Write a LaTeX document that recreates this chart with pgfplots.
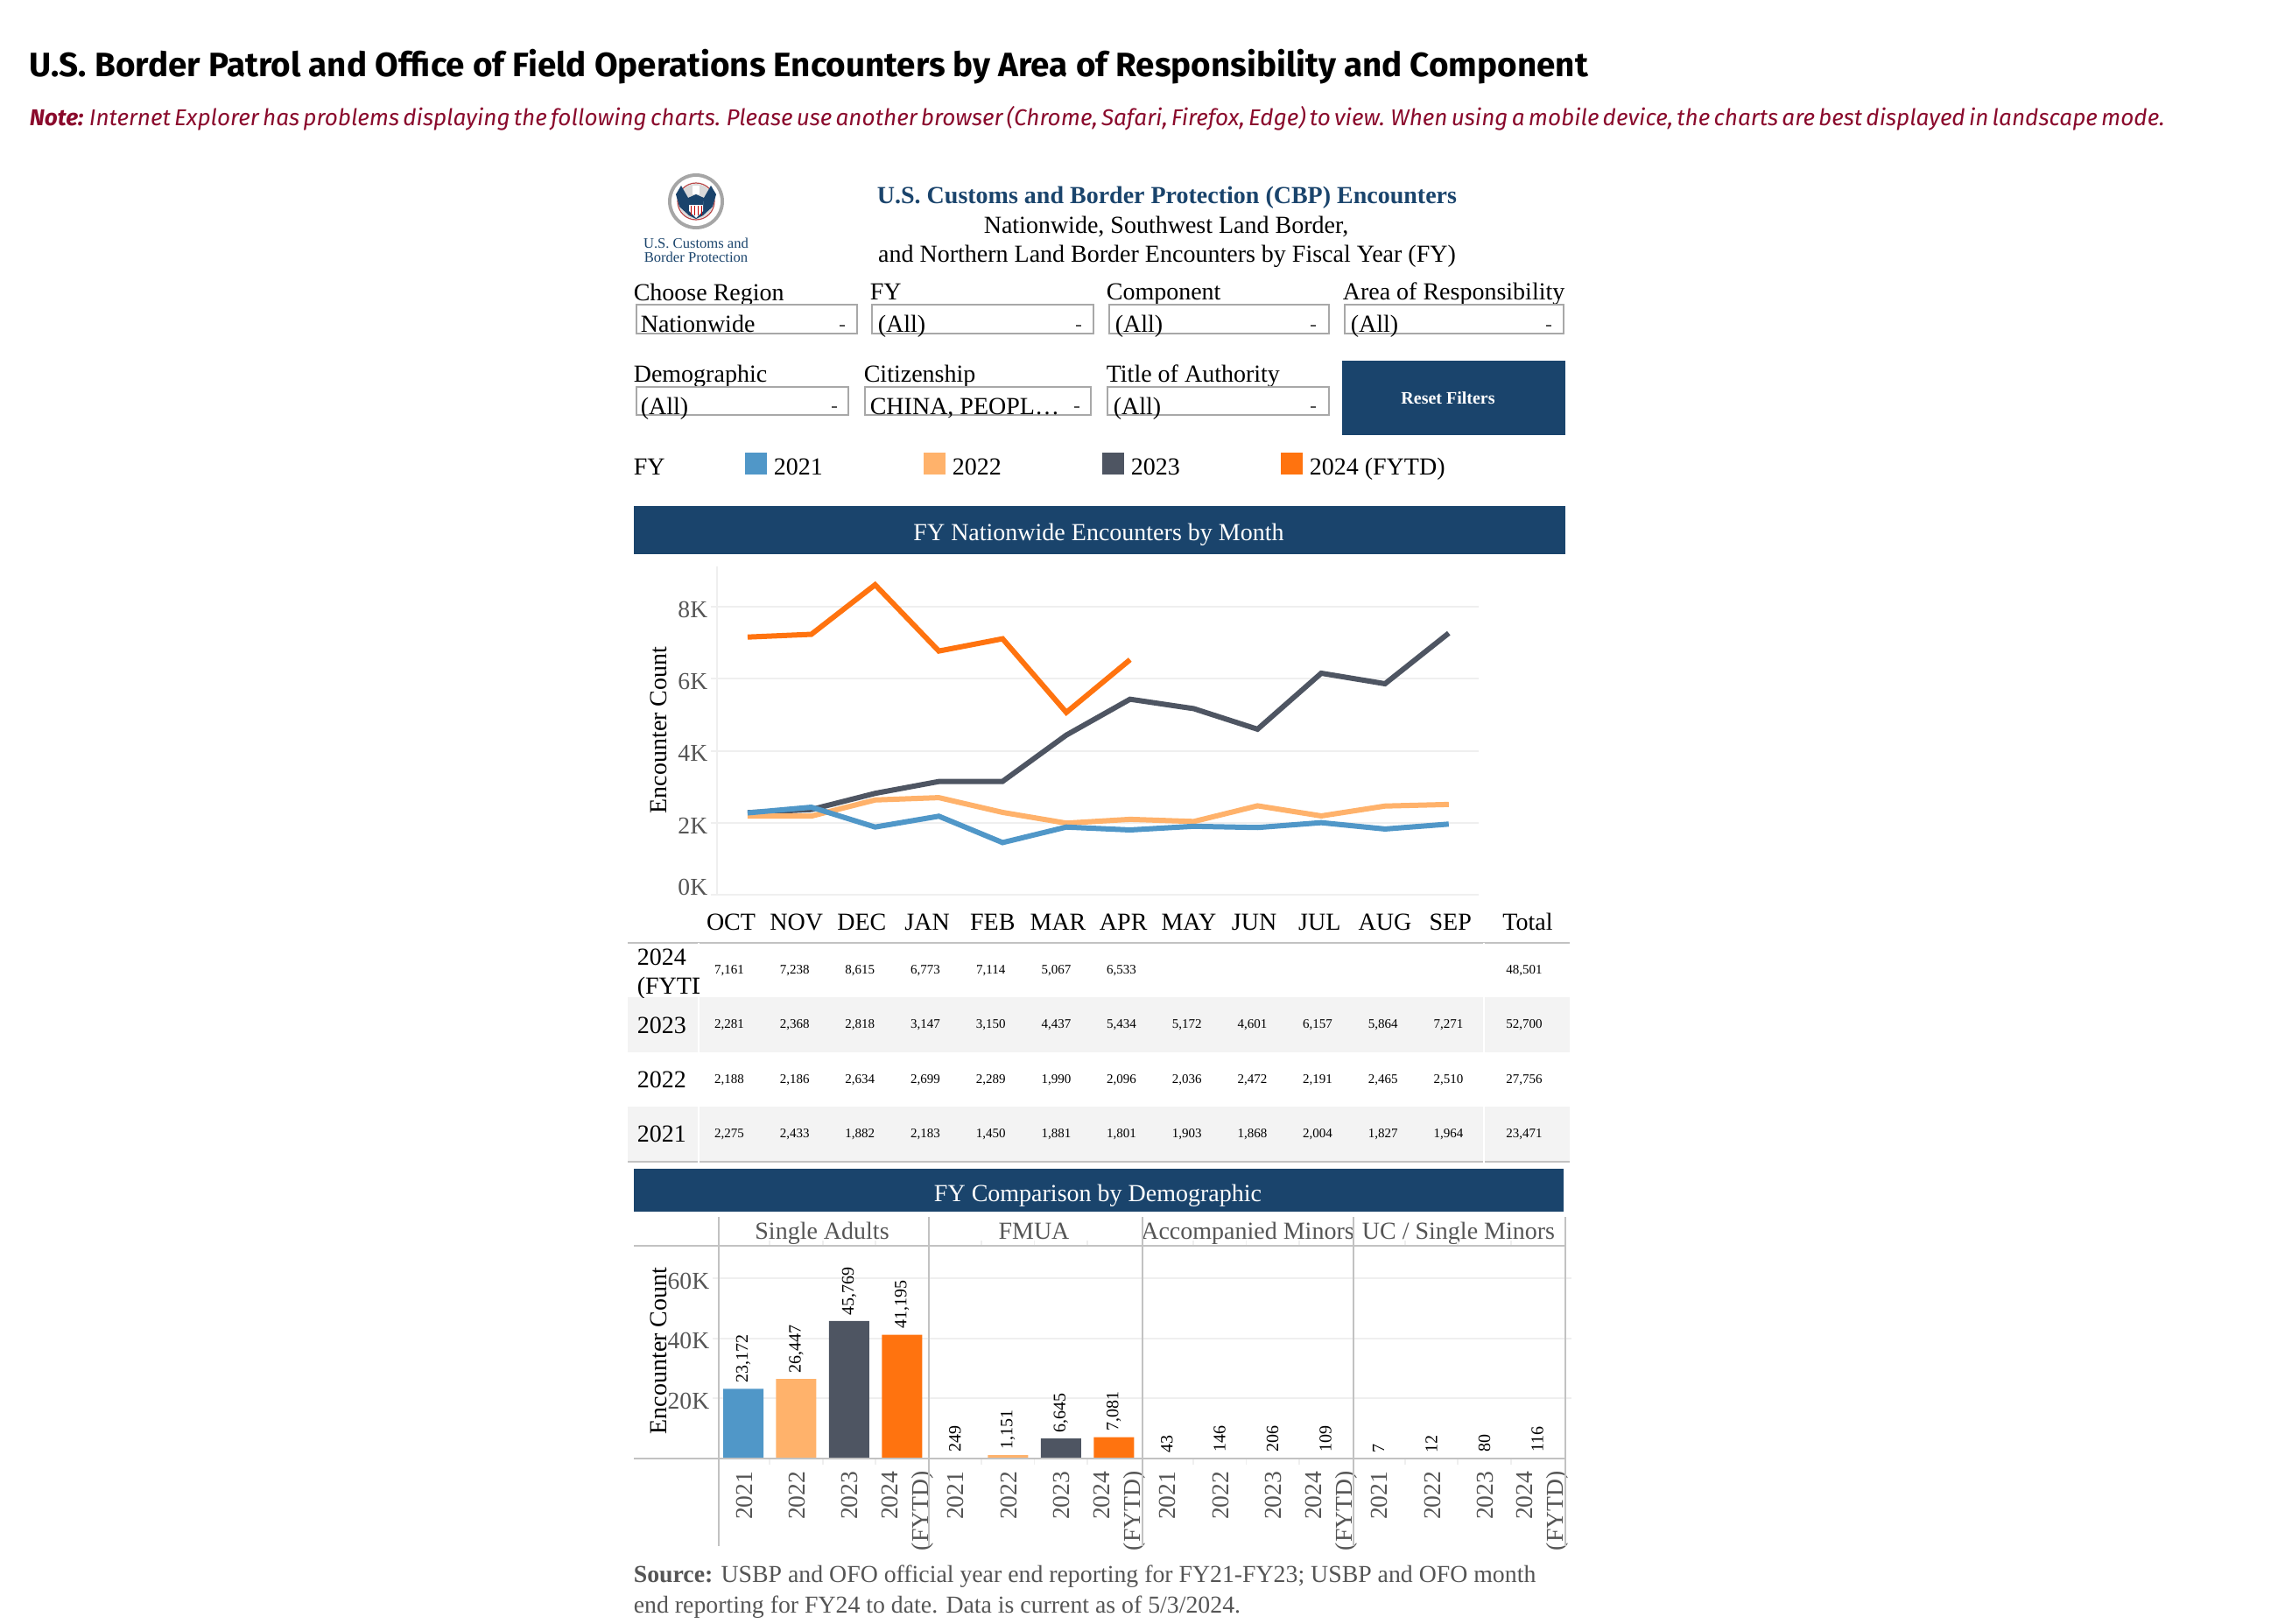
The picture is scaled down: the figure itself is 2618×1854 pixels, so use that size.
\documentclass[border=0pt]{standalone}
\usepackage{fontspec}
\setmainfont{Liberation Serif}
\newfontfamily\webfont{Fira Sans}
\usepackage{pgfplots}
\pgfplotsset{compat=1.18}

\definecolor{fyone}{HTML}{5097C8}
\definecolor{fytwo}{HTML}{FFB26B}
\definecolor{fythree}{HTML}{4E5562}
\definecolor{fyfour}{HTML}{FF730F}
\definecolor{banner}{HTML}{1A446C}
\definecolor{notered}{HTML}{8A0A2C}
\definecolor{boxline}{HTML}{A8A8A8}
\definecolor{gridl}{HTML}{EFEFEF}
\definecolor{rowbg}{HTML}{F3F3F3}
\definecolor{txgray}{HTML}{555555}

% font sizes, named after their height in pixels of the final image
\newcommand{\fsbig}{\fontsize{7}{8.75}\selectfont}
\newcommand{\fstick}{\fontsize{6.9}{8.75}\selectfont}
\newcommand{\fsbar}{\fontsize{5}{6}\selectfont}
\newcommand{\fscell}{\fontsize{3.75}{4.5}\selectfont}
\newcommand{\fslogo}{\fontsize{4.15}{5}\selectfont}
% two-line tick label, the rule moves it a little to the right once rotated
\newcommand{\ytd}{\rule{0pt}{7.2pt}2024\\(FYTD)}

\begin{document}
\begin{tikzpicture}[x=0.25pt,y=-0.25pt,
  tx/.style={inner sep=0pt,anchor=base west,font=\fsbig},
  txc/.style={inner sep=0pt,anchor=base,font=\fsbig},
  cell/.style={inner sep=0pt,anchor=base,font=\fscell},
  filter/.style={draw=boxline,line width=0.5pt,fill=white}]
\path[use as bounding box] (0,0) rectangle (2618,1854);
\coordinate (linepos) at (819,1022);
\coordinate (barpos) at (821,1666);

% page heading
\node[inner sep=0pt,anchor=base west,font=\webfont\bfseries\fontsize{9.65}{12}\selectfont] at (33,87)
  {U.S. Border Patrol and Office of Field Operations Encounters by Area of Responsibility and Component};
\node[inner sep=0pt,anchor=base west,text=notered,font=\webfont\itshape\fontsize{6.54}{9}\selectfont] at (33,143)
  {\spaceskip=0.16em\relax\textbf{Note:} Internet Explorer has problems displaying the following charts. Please use another browser (Chrome, Safari, Firefox, Edge) to view. When using a mobile device, the charts are best displayed in landscape mode.};

% seal
\fill[gray!70] (795,230) circle (32);
\fill[white] (795,230) circle (28);
\draw[red!45!gray,line width=0.3pt] (795,230) circle (21);
\fill[gray!30] (795,230) circle (20);
\fill[banner] (795,222) -- (786,226) -- (778,212) -- (772,222) -- (776,236) -- (787,246) -- (795,250)
  -- (803,246) -- (814,236) -- (818,222) -- (812,212) -- (804,226) -- cycle;
\fill[white] (787,230) -- (803,230) -- (803,241) -- (795,249) -- (787,241) -- cycle;
\fill[banner] (787,230) rectangle (803,234);
\foreach \xx in {789,793,797,801} \draw[red!75!black,line width=0.25pt] (\xx,235) -- (\xx,246);
\fill[white] (791,212) rectangle (799,222);
\node[txc,font=\fslogo,text=banner] at (795,283) {U.S. Customs and};
\node[txc,font=\fslogo,text=banner] at (795,299) {Border Protection};

% dashboard heading
\node[txc,text=banner] at (1333,232) {\textbf{U.S. Customs and Border Protection (CBP) Encounters}};
\node[txc] at (1332,266) {Nationwide, Southwest Land Border,};
\node[txc] at (1333,299) {and Northern Land Border Encounters by Fiscal Year (FY)};

% filters
\node[tx] at (723,343) {Choose Region};
\node[tx] at (993,342) {FY};
\node[tx] at (1263,342) {Component};
\node[tx] at (1533,342) {Area of Responsibility};
\draw[filter] (727,348) rectangle (979,381);
\draw[filter] (996,348) rectangle (1249,381);
\draw[filter] (1267,348) rectangle (1518,381);
\draw[filter] (1536,348) rectangle (1786,381);
\node[tx] at (731,379) {Nationwide};
\node[tx] at (1002,379) {(All)};
\node[tx] at (1273,379) {(All)};
\node[tx] at (1542,379) {(All)};
\foreach \x in {962,1232,1500,1769} \draw[txgray,line width=0.3pt] (\x-3,372) -- (\x+3,372);

\node[tx] at (723,436) {Demographic};
\node[tx] at (986,436) {Citizenship};
\node[tx] at (1263,436) {Title of Authority};
\draw[filter] (727,442) rectangle (969,474);
\draw[filter] (988,442) rectangle (1246,474);
\draw[filter] (1265,442) rectangle (1518,474);
\node[tx] at (731,473) {(All)};
\node[tx] at (993,473) {CHINA, PEOPL\ldots};
\node[tx] at (1271,473) {(All)};
\foreach \x in {953,1230,1500} \draw[txgray,line width=0.3pt] (\x-3,465) -- (\x+3,465);

\fill[banner] (1533,412) rectangle (1788,497);
\node[txc,font=\fsbar\bfseries,text=white] at (1654,461) {Reset Filters};

% legend
\node[tx] at (723,542) {FY};
\fill[fyone] (851,517) rectangle (876,542);
\node[tx] at (883,542) {2021};
\fill[fytwo] (1055,517) rectangle (1080,542);
\node[tx] at (1087,542) {2022};
\fill[fythree] (1259,517) rectangle (1284,542);
\node[tx] at (1291,542) {2023};
\fill[fyfour] (1463,517) rectangle (1488,542);
\node[tx] at (1495,542) {2024 (FYTD)};

% monthly line chart
\fill[banner] (724,578) rectangle (1788,633);
\node[txc,text=white] at (1255,617) {FY Nationwide Encounters by Month};

\begin{axis}[
    at={(linepos)}, anchor=south west, scale only axis,
    width=217.5pt, height=93.75pt,
    xmin=-0.48, xmax=11.47, ymin=0, ymax=9124,
    axis line style={draw=none},
    axis y line=left, axis x line=none,
    ytick={2000,4000,6000,8000}, yticklabels={2K,4K,6K,8K},
    extra y ticks={0}, extra y tick labels={0K},
    extra y tick style={yticklabel style={yshift=2.85pt}},
    ymajorgrids, grid style={draw=gridl,line width=0.5pt},
    tick align=outside, major tick length=1.75pt,
    ytick style={draw=gridl,line width=0.5pt},
    yticklabel style={font=\fstick,text=txgray,inner sep=0pt,xshift=-0.75pt,yshift=-0.8pt,
      /pgf/number format/assume math mode=true},
  ]
  \addplot[color=fyfour,line width=1.5pt] coordinates {
    (0,7161) (1,7238) (2,8615) (3,6773) (4,7114) (5,5067) (6,6533)};
  \addplot[color=fythree,line width=1.5pt] coordinates {
    (0,2281) (1,2368) (2,2818) (3,3147) (4,3150) (5,4437) (6,5434)
    (7,5172) (8,4601) (9,6157) (10,5864) (11,7271)};
  \addplot[color=fytwo,line width=1.5pt] coordinates {
    (0,2188) (1,2186) (2,2634) (3,2699) (4,2289) (5,1990) (6,2096)
    (7,2036) (8,2472) (9,2191) (10,2465) (11,2510)};
  \addplot[color=fyone,line width=1.5pt] coordinates {
    (0,2275) (1,2433) (2,1882) (3,2183) (4,1450) (5,1881) (6,1801)
    (7,1903) (8,1868) (9,2004) (10,1827) (11,1964)};
\end{axis}
\draw[gridl,line width=0.4pt] (819,647) -- (819,1022);
\node[rotate=90,inner sep=0pt,font=\fsbig,anchor=base] at (761,834) {Encounter Count};

% table under the line chart
\fill[rowbg] (717,1139) rectangle (1793,1202);
\fill[rowbg] (717,1264) rectangle (1793,1327);
\foreach \yy in {1077,1327} \draw[boxline!70,line width=0.5pt] (717,\yy) -- (1793,\yy);
\foreach \xx in {798,1695} \draw[white,line width=0.5pt] (\xx,1077) -- (\xx,1328);
\foreach \m [count=\i from 0] in {OCT,NOV,DEC,JAN,FEB,MAR,APR,MAY,JUN,JUL,AUG,SEP}
  \node[txc] at ({835+74.7*\i},1062) {\m};
\node[txc] at (1745,1062) {Total};

\begin{scope}
  \clip (717,1077) rectangle (798,1139);
  \node[tx] at (727,1102) {2024};
  \node[tx] at (727,1135) {(FYTD)};
\end{scope}
\node[tx] at (727,1180) {2023};
\node[tx] at (727,1242) {2022};
\node[tx] at (727,1304) {2021};

\foreach \i/\v in {0/{7,161},1/{7,238},2/{8,615},3/{6,773},4/{7,114},5/{5,067},6/{6,533}}
  \node[cell] at ({833+74.67*\i},1112) {\v};
\foreach \i/\v in {0/{2,281},1/{2,368},2/{2,818},3/{3,147},4/{3,150},5/{4,437},6/{5,434},7/{5,172},8/{4,601},9/{6,157},10/{5,864},11/{7,271}}
  \node[cell] at ({833+74.67*\i},1174) {\v};
\foreach \i/\v in {0/{2,188},1/{2,186},2/{2,634},3/{2,699},4/{2,289},5/{1,990},6/{2,096},7/{2,036},8/{2,472},9/{2,191},10/{2,465},11/{2,510}}
  \node[cell] at ({833+74.67*\i},1237) {\v};
\foreach \i/\v in {0/{2,275},1/{2,433},2/{1,882},3/{2,183},4/{1,450},5/{1,881},6/{1,801},7/{1,903},8/{1,868},9/{2,004},10/{1,827},11/{1,964}}
  \node[cell] at ({833+74.67*\i},1299) {\v};
\node[cell] at (1741,1112) {48,501};
\node[cell] at (1741,1174) {52,700};
\node[cell] at (1741,1237) {27,756};
\node[cell] at (1741,1299) {23,471};

% demographic bars
\fill[banner] (724,1335) rectangle (1786,1384);
\node[txc,text=white] at (1254,1372) {FY Comparison by Demographic};
\node[txc,text=txgray] at (939,1415) {Single Adults};
\node[txc,text=txgray] at (1181,1415) {FMUA};
\begin{scope}
  \clip (1305,1390) rectangle (1546,1423);
  \node[txc,text=txgray] at (1425,1415) {Accompanied Minors};
\end{scope}
\node[txc,text=txgray] at (1666,1415) {UC / Single Minors};

\begin{axis}[
    at={(barpos)}, anchor=south west, scale only axis,
    width=241.75pt, height=60.5pt,
    xmin=-0.463, xmax=15.53, ymin=0, ymax=70451,
    axis line style={draw=none},
    ybar, bar width=11.5pt,
    scaled y ticks=false,
    ytick={20000,40000,60000}, yticklabels={20K,40K,60K},
    ymajorgrids, grid style={draw=gridl,line width=0.5pt},
    xtick={0,...,15},
    xticklabels={2021,2022,2023,{\ytd},2021,2022,2023,{\ytd},2021,2022,2023,{\ytd},2021,2022,2023,{\ytd}},
    minor xtick={0.5,1.5,2.5,4.5,5.5,6.5,8.5,9.5,10.5,12.5,13.5,14.5},
    tick align=outside, major tick length=1.75pt, minor tick length=1.75pt,
    xtick style={draw=none},
    ytick style={draw=gridl,line width=0.5pt},
    minor x tick style={draw=gridl,line width=0.4pt},
    ticklabel style={font=\fstick,text=txgray,inner sep=0pt},
    yticklabel style={xshift=-0.75pt,yshift=-0.8pt},
    xticklabel style={rotate=90,anchor=east,align=right,xshift=-1.7pt,yshift=-0.25pt},
    nodes near coords,
    /pgf/number format/1000 sep={,},
    every node near coord/.append style={rotate=90,anchor=west,font=\fsbar,text=black,inner sep=1.5pt,
      /pgf/number format/assume math mode=true},
    clip=false,
  ]
  \addplot[fill=fyone,draw=none,bar shift=0pt] coordinates {(0,23172) (4,249) (8,43) (12,7)};
  \addplot[fill=fytwo,draw=none,bar shift=0pt] coordinates {(1,26447) (5,1151) (9,146) (13,12)};
  \addplot[fill=fythree,draw=none,bar shift=0pt] coordinates {(2,45769) (6,6645) (10,206) (14,80)};
  \addplot[fill=fyfour,draw=none,bar shift=0pt] coordinates {(3,41195) (7,7081) (11,109) (15,116)};
\end{axis}

% facet frame
\draw[boxline!70,line width=0.4pt] (724,1423) -- (1788,1423);
\draw[boxline!70,line width=0.5pt] (724,1666) -- (1788,1666);
\foreach \xx in {821,1061,1305,1546,1788}
  \draw[boxline!70,line width=0.3pt] (\xx,1390) -- (\xx,1766);
\node[rotate=90,inner sep=0pt,font=\fsbig,anchor=base] at (761,1543) {Encounter Count};

% source
\node[tx,text=txgray,font=\fontsize{6.95}{8}\selectfont] at (723,1807) {\textbf{Source:} USBP and OFO official year end reporting for FY21-FY23; USBP and OFO month};
\node[tx,text=txgray,font=\fontsize{6.95}{8}\selectfont] at (723,1842) {end reporting for FY24 to date. Data is current as of 5/3/2024.};
\end{tikzpicture}
\end{document}
